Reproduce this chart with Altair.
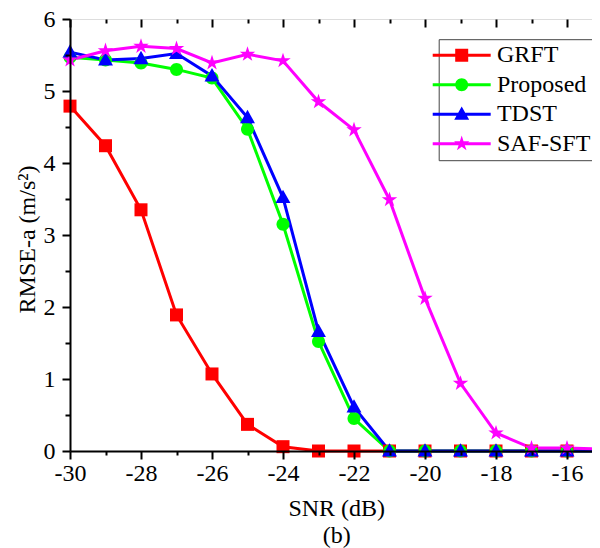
import altair as alt
import pandas as pd

# ---------------- data ----------------
snr = list(range(-30, -14))
grft = [4.79, 4.24, 3.35, 1.89, 1.07, 0.37, 0.06, 0.0, 0.0, 0.0, 0.0, 0.0, 0.0, 0.0, 0.0, 0.0]
proposed = [5.47, 5.43, 5.39, 5.30, 5.18, 4.47, 3.15, 1.52, 0.45, 0.0, 0.0, 0.0, 0.0, 0.0, 0.0, 0.0]
tdst = [5.54, 5.43, 5.45, 5.52, 5.21, 4.63, 3.52, 1.66, 0.61, 0.0, 0.0, 0.0, 0.0, 0.0, 0.0, 0.0]
saf_sft = [5.43, 5.56, 5.62, 5.59, 5.39, 5.51, 5.42, 4.85, 4.46, 3.49, 2.12, 0.94, 0.25, 0.04, 0.04, 0.03]

methods = ["GRFT", "Proposed", "TDST", "SAF-SFT"]
series = [grft, proposed, tdst, saf_sft]
colors = ["#ff0000", "#00ff00", "#0000ff", "#ff00ff"]

x_major_ticks = list(range(-30, -15, 2))
x_minor_ticks = list(range(-29, -14, 2))
y_major_ticks = [0, 1, 2, 3, 4, 5, 6]
y_minor_ticks = [0.5, 1.5, 2.5, 3.5, 4.5, 5.5]

# marker shapes (unit coordinates, scaled by sqrt(size)/2)
SQUARE = "M-1,-1H1V1H-1Z"
CIRCLE = "M1,0A1,1 0 1,1 -1,0A1,1 0 1,1 1,0Z"
TRIANGLE = "M0,-1.2L1.15,0.85H-1.15Z"
STAR = ("M0,-1.25L0.28,-0.386L1.189,-0.386L0.454,0.148L0.735,1.011L0,0.478"
        "L-0.735,1.011L-0.454,0.148L-1.189,-0.386L-0.28,-0.386Z")
markers = [SQUARE, CIRCLE, TRIANGLE, STAR]
STUB = "M-4.46,-0.23H4.46V0.23H-4.46Z"
legend_shapes = [STUB + m for m in markers]

FONT = "Liberation Serif"

rows = []
for m, vals, c, shp in zip(methods, series, colors, markers):
    for s, v in zip(snr, vals):
        rows.append({"method": m, "snr": s, "value": v, "col": c, "shp": shp})
df = pd.DataFrame(rows)

W, H = 532.5, 432

xscale = alt.Scale(domain=[-30, -15], nice=False, zero=False)
yscale = alt.Scale(domain=[0, 6], nice=False, zero=True)

common = dict(ticks=True, tickColor="#000000", tickWidth=2, tickOpacity=1,
              grid=False, zindex=2)
bare = dict(labels=False, domain=False, title=None, **common)

x_main = alt.Axis(
    orient="bottom", values=x_major_ticks, tickSize=8,
    labelExpr="'' + datum.value",
    domainColor="black", domainWidth=2,
    labelFont=FONT, labelFontSize=24, labelColor="black", labelPadding=2,
    labelOverlap=False, labelFlush=False,
    title=["SNR (dB)", "(b)"], titleFont=FONT, titleFontSize=24,
    titleFontWeight="normal", titleColor="black", titlePadding=11,
    titleLineHeight=27, **common)
x_bottom_minor = alt.Axis(orient="bottom", values=x_minor_ticks, tickSize=4, **bare)
x_top_major = alt.Axis(orient="bottom", offset=-H, values=x_major_ticks, tickSize=8, **bare)
x_top_minor = alt.Axis(orient="bottom", offset=-H, values=x_minor_ticks, tickSize=4, **bare)

y_main = alt.Axis(
    orient="left", values=y_major_ticks, tickSize=8,
    labelExpr="'' + datum.value",
    domainColor="black", domainWidth=2,
    labelFont=FONT, labelFontSize=24, labelColor="black", labelPadding=7,
    labelOverlap=False, labelFlush=False,
    title="RMSE-a (m/s²)", titleFont=FONT, titleFontSize=24,
    titleFontWeight="normal", titleColor="black",
    titleX=-31, titleY=220, titleAngle=270, titleBaseline="bottom",
    titleAlign="center", **common)
y_left_minor = alt.Axis(orient="left", values=y_minor_ticks, tickSize=5, **bare)
y_right_major = alt.Axis(orient="left", offset=-W, values=y_major_ticks, tickSize=8, **bare)
y_right_minor = alt.Axis(orient="left", offset=-W, values=y_minor_ticks, tickSize=5, **bare)

lines = alt.Chart(df).mark_line(strokeWidth=3).encode(
    x=alt.X("snr:Q", scale=xscale, axis=x_main),
    y=alt.Y("value:Q", scale=yscale, axis=y_main),
    color=alt.Color("col:N", scale=None),
    detail="method:N",
    order="snr:Q",
)

points = alt.Chart(df).mark_point(filled=True, size=169, opacity=1).encode(
    x=alt.X("snr:Q", scale=xscale, axis=x_bottom_minor),
    y=alt.Y("value:Q", scale=yscale, axis=y_left_minor),
    color=alt.Color("col:N", scale=None),
    shape=alt.Shape("shp:N", scale=None),
)

leg = alt.Legend(
    title=None, orient="none", legendX=368.7, legendY=20.2,
    padding=4, strokeColor="#444444", fillColor="white",
    symbolSize=169, symbolStrokeWidth=0, symbolOpacity=1,
    symbolOffset=7, labelOffset=23.25, rowPadding=5.5,
    labelFont=FONT, labelFontSize=24, labelColor="black", labelLimit=0,
)

legend_layer = alt.Chart(df).mark_point(filled=True, opacity=0).encode(
    x=alt.X("snr:Q", scale=xscale, axis=x_top_major),
    y=alt.Y("value:Q", scale=yscale, axis=y_right_major),
    color=alt.Color("method:N", scale=alt.Scale(domain=methods, range=colors), legend=leg),
    shape=alt.Shape("method:N", scale=alt.Scale(domain=methods, range=legend_shapes), legend=leg),
)

tick_layer = alt.Chart(df).mark_point(opacity=0).encode(
    x=alt.X("snr:Q", scale=xscale, axis=x_top_minor),
    y=alt.Y("value:Q", scale=yscale, axis=y_right_minor),
)

chart = alt.layer(lines, points, legend_layer, tick_layer).resolve_axis(
    x="independent", y="independent"
).properties(
    width=W, height=H,
    autosize=alt.AutoSizeParams(type="none"),
    padding={"left": 62, "top": 11, "right": -10.5, "bottom": 97},
    title=alt.TitleParams("(a)", font=FONT, fontSize=24, fontWeight="normal",
                          color="black", anchor="middle", frame="group",
                          offset=13, baseline="alphabetic"),
).configure_view(stroke="black", strokeWidth=2).configure(background="white")

chart.save("out.html", embed_options={"renderer": "svg", "actions": False})
